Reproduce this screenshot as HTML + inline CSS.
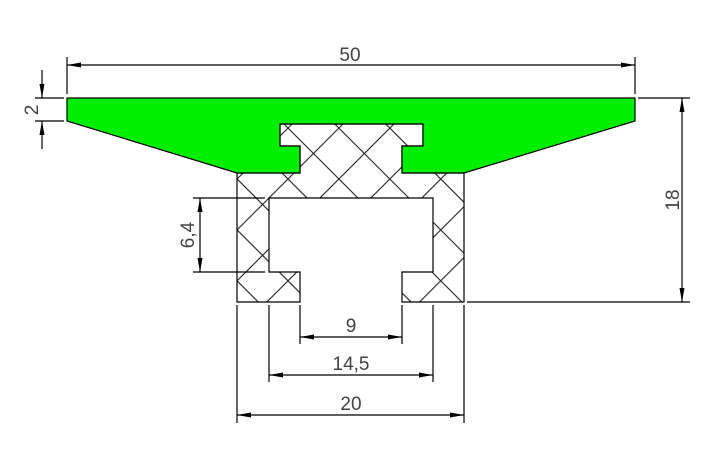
<!DOCTYPE html>
<html><head><style>html,body{margin:0;padding:0;background:#fff}svg{display:block}</style></head><body>
<svg width="721" height="459" viewBox="0 0 721 459" xmlns="http://www.w3.org/2000/svg">
<defs>
<pattern id="h" width="36" height="36" patternUnits="userSpaceOnUse" patternTransform="translate(8,0) rotate(45)">
<line x1="0.5" y1="0" x2="0.5" y2="36" stroke="#222" stroke-width="1.2"/>
<line x1="0" y1="0.5" x2="36" y2="0.5" stroke="#222" stroke-width="1.2"/>
</pattern>
<marker id="a" viewBox="0 0 14 6" refX="14" refY="3" markerWidth="14" markerHeight="6" markerUnits="userSpaceOnUse" orient="auto-start-reverse"><path d="M0,0.5 L14,3 L0,5.5z" fill="#000"/></marker>
</defs>
<g stroke="#000" stroke-width="1.2" fill="none">
<path d="M237,173 L300,173 L300,146 L280,146 L280,124 L423,124 L423,146 L402,146 L402,173 L464,173 L464,302 L402,302 L402,272 L433,272 L433,198 L269,198 L269,272 L300,272 L300,302 L237,302 Z" fill="url(#h)"/>
<path d="M67,98 L635,98 L635,121 L464,173 L402,173 L402,146 L423,146 L423,124 L280,124 L280,146 L300,146 L300,173 L237,173 L67,121 Z" fill="#00ee00"/>
<line x1="67" y1="57" x2="67" y2="94"/><line x1="635" y1="57" x2="635" y2="94"/>
<line x1="67" y1="65" x2="635" y2="65" marker-start="url(#a)" marker-end="url(#a)"/>
<line x1="35" y1="98" x2="64" y2="98"/><line x1="35" y1="121" x2="64" y2="121"/>
<line x1="42" y1="70" x2="42" y2="98" marker-end="url(#a)"/><line x1="42" y1="149" x2="42" y2="121" marker-end="url(#a)"/>
<line x1="638" y1="98" x2="690" y2="98"/><line x1="467" y1="302" x2="690" y2="302"/>
<line x1="682" y1="98" x2="682" y2="302" marker-start="url(#a)" marker-end="url(#a)"/>
<line x1="193" y1="198" x2="265" y2="198"/><line x1="193" y1="272" x2="265" y2="272"/>
<line x1="200" y1="198" x2="200" y2="272" marker-start="url(#a)" marker-end="url(#a)"/>
<line x1="300" y1="305" x2="300" y2="344"/><line x1="402" y1="305" x2="402" y2="344"/>
<line x1="300" y1="337" x2="402" y2="337" marker-start="url(#a)" marker-end="url(#a)"/>
<line x1="269" y1="305" x2="269" y2="382"/><line x1="433" y1="305" x2="433" y2="382"/>
<line x1="269" y1="375" x2="433" y2="375" marker-start="url(#a)" marker-end="url(#a)"/>
<line x1="237" y1="305" x2="237" y2="423"/><line x1="464" y1="305" x2="464" y2="423"/>
<line x1="237" y1="415" x2="464" y2="415" marker-start="url(#a)" marker-end="url(#a)"/>
</g>
<g font-family="Liberation Sans, sans-serif" font-size="19" fill="#444" text-anchor="middle">
<text x="350" y="61">50</text>
<text x="351" y="332">9</text>
<text x="351" y="370">14,5</text>
<text x="351" y="410">20</text>
<text transform="translate(38,110) rotate(-90)">2</text>
<text transform="translate(194,235) rotate(-90)">6,4</text>
<text transform="translate(679,200) rotate(-90)">18</text>
</g>
</svg>
</body></html>
